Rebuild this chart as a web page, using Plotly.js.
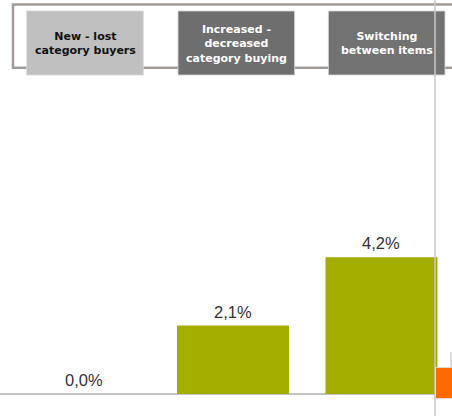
<!DOCTYPE html>
<html>
<head>
<meta charset="utf-8">
<script src="https://cdn.plot.ly/plotly-3.0.1.min.js"></script>
<style>html,body{margin:0;padding:0;background:#fff;}#chart{width:452px;height:416px;}</style>
</head>
<body>
<div id="chart"></div>
<script>
var categories = ["New - lost<br>category buyers", "Increased -<br>decreased<br>category buying", "Switching<br>between items"];
var values = [0.0, 2.1, 4.2];
var valueLabels = ["0,0%", "2,1%", "4,2%"];
var headerFill = ["#c0c0c0", "#6e6e6e", "#727272"];
var headerText = ["#111111", "#ffffff", "#ffffff"];
var headerCenters = [85, 236.3, 386.7]; // px

var W = 452, H = 416;
function px(x){return x / W;}
function py(y){return 1 - y / H;}

var shapes = [];
shapes.push({type:'rect', xref:'paper', yref:'paper', x0:px(13), x1:px(470), y0:py(4.5), y1:py(67.7),
  line:{color:'#a29b98', width:2.5}, fillcolor:'rgba(0,0,0,0)', layer:'above'});
var annotations = [];
for (var i = 0; i < categories.length; i++) {
  var c = headerCenters[i];
  shapes.push({type:'rect', xref:'paper', yref:'paper', x0:px(c-58.3), x1:px(c+58.3), y0:py(11), y1:py(75),
    line:{color:'#d8d8d8', width:0.8}, fillcolor:headerFill[i], layer:'above'});
  annotations.push({xref:'paper', yref:'paper', x:px(c), y:py(44), xanchor:'center', yanchor:'middle',
    text:'<b>' + categories[i] + '</b>', showarrow:false,
    font:{family:'DejaVu Sans, Verdana, sans-serif', size:11, color:headerText[i]}});
  annotations.push({xref:'x', yref:'y', x:categories[i], y:values[i], yanchor:'middle', xanchor:'center',
    yshift:14, text:valueLabels[i], showarrow:false,
    font:{family:'Liberation Sans, Arial, sans-serif', size:16.5, color:'#333333'}});
}
shapes.push({type:'line', xref:'paper', yref:'paper', x0:px(435), x1:px(435), y0:0, y1:1,
  line:{color:'#c8c8c8', width:1.5}, layer:'above'});
shapes.push({type:'line', xref:'paper', yref:'paper', x0:px(451), x1:px(451), y0:py(352), y1:py(368),
  line:{color:'#d0d0d0', width:1.5}, layer:'above'});
shapes.push({type:'rect', xref:'paper', yref:'paper', x0:px(435.5), x1:px(453), y0:py(367.5), y1:py(398.5),
  line:{color:'#e0d8d0', width:1}, fillcolor:'#ff6a00', layer:'above'});

var trace = {
  type:'bar', x:categories, y:values, width:0.754,
  marker:{color:'#a3ad00', line:{width:0}},
  hoverinfo:'skip'
};

var layout = {
  width:W, height:H,
  margin:{l:0, r:0, t:0, b:0, pad:0},
  paper_bgcolor:'#ffffff', plot_bgcolor:'#ffffff',
  showlegend:false,
  xaxis:{type:'category', range:[-0.569, 2.475], showticklabels:false, showgrid:false, zeroline:false, showline:false, ticks:''},
  yaxis:{range:[-0.675, 12.09], showticklabels:false, showgrid:false, zeroline:true, zerolinecolor:'#c4c4c4', zerolinewidth:2, showline:false, ticks:''},
  shapes:shapes,
  annotations:annotations
};

Plotly.newPlot('chart', [trace], layout, {displayModeBar:false, staticPlot:true});
</script>
</body>
</html>
